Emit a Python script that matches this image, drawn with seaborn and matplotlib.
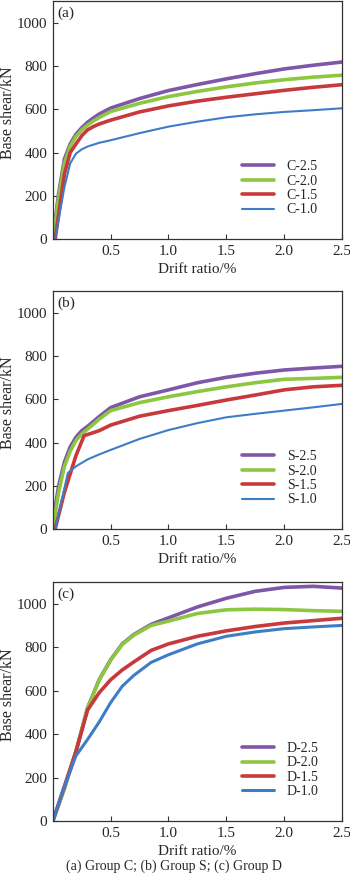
import matplotlib
matplotlib.use("Agg")
import matplotlib.pyplot as plt
import seaborn as sns

# ---- data (drift ratio %, base shear kN) ----
c_x = [0, 0.05, 0.1, 0.15, 0.2, 0.25, 0.3, 0.35, 0.4, 0.5, 0.75, 1.0, 1.25, 1.5, 1.75, 2.0, 2.25, 2.5]
c25 = [0, 210, 370, 440, 485, 515, 540, 560, 578, 606, 650, 687, 715, 741, 765, 787, 804, 819]
c20 = [0, 190, 350, 430, 475, 505, 527, 546, 562, 590, 628, 659, 683, 704, 722, 737, 749, 758]
c15_x = [0.02, 0.1, 0.15, 0.2, 0.25, 0.3, 0.35, 0.4, 0.5, 0.75, 1.0, 1.25, 1.5, 1.75, 2.0, 2.25, 2.5]
c15 = [0, 300, 400, 440, 478, 505, 520, 532, 550, 588, 616, 638, 656, 672, 688, 702, 714]
c10_x = [0.02, 0.1, 0.15, 0.2, 0.25, 0.3, 0.4, 0.5, 0.75, 1.0, 1.25, 1.5, 1.75, 2.0, 2.25, 2.5]
c10 = [0, 240, 350, 395, 415, 428, 445, 457, 490, 520, 543, 563, 577, 588, 596, 605]

s_x = [0, 0.05, 0.1, 0.15, 0.2, 0.25, 0.3, 0.4, 0.5, 0.75, 1.0, 1.25, 1.5, 1.75, 2.0, 2.25, 2.5]
s25 = [30, 200, 310, 380, 425, 455, 475, 520, 562, 612, 644, 677, 702, 721, 736, 745, 753]
s20 = [0, 170, 290, 360, 410, 440, 462, 508, 548, 585, 612, 636, 658, 677, 693, 697, 702]
s15_x = [0.02, 0.1, 0.2, 0.27, 0.35, 0.4, 0.5, 0.75, 1.0, 1.25, 1.5, 1.75, 2.0, 2.25, 2.5]
s15 = [0, 170, 340, 432, 446, 455, 481, 522, 548, 572, 597, 620, 644, 658, 665]
s10_x = [0.02, 0.13, 0.2, 0.3, 0.4, 0.5, 0.75, 1.0, 1.25, 1.5, 1.75, 2.0, 2.25, 2.5]
s10 = [0, 260, 290, 322, 345, 366, 417, 458, 490, 517, 533, 548, 563, 579]

d_x = [0, 0.1, 0.2, 0.3, 0.4, 0.5, 0.6, 0.7, 0.85, 1.0, 1.25, 1.5, 1.75, 2.0, 2.25, 2.5]
d25 = [0, 150, 320, 520, 650, 742, 815, 858, 905, 935, 985, 1025, 1057, 1075, 1080, 1072]
d20 = [0, 150, 320, 520, 648, 740, 812, 855, 900, 920, 955, 972, 975, 973, 968, 965]
d15 = [0, 160, 320, 510, 590, 650, 695, 732, 785, 815, 850, 875, 895, 911, 922, 933]
d10 = [0, 160, 300, 375, 455, 545, 620, 670, 730, 765, 815, 850, 870, 885, 893, 900]

series_colors = ["#7E57A8", "#8DC63F", "#C8393B", "#3E7DC6"]


def plot_group(ax, curves, labels, tag, blue_lw=1.5):
    """One panel: four pushover curves plus legend."""
    widths = [2.6, 2.6, 2.6, blue_lw]
    for (x, y), lab, col, lw in zip(curves, labels, series_colors, widths):
        sns.lineplot(x=x, y=y, ax=ax, color=col, lw=lw, label=lab,
                     sort=False, estimator=None)
    ax.set_xlim(0, 2.5)
    ax.set_ylim(0, 1100)
    ax.set_xticks([0.5, 1.0, 1.5, 2.0, 2.5])
    ax.set_xticklabels(["0.5", "1.0", "1.5", "2.0", "2.5"])
    ax.set_yticks([0, 200, 400, 600, 800, 1000])
    ax.tick_params(direction="in", length=3.5, width=0.8, labelsize=11, pad=4,
                   color="#333333")
    ax.set_xlabel("Drift ratio/%", fontsize=11, labelpad=4)
    ax.set_ylabel("Base shear/kN", fontsize=11.5)
    ax.yaxis.set_label_coords(-0.128, 0.53)
    for sp in ax.spines.values():
        sp.set_color("#333333")
        sp.set_linewidth(0.9)
    ax.text(0.017, 0.95, tag, transform=ax.transAxes, fontsize=11, va="center")
    ax.legend(loc="lower left", bbox_to_anchor=(0.655, 0.095), frameon=False,
              fontsize=10, handlelength=2.3, handletextpad=0.9,
              labelspacing=0.1, borderpad=0, borderaxespad=0)


sns.set_theme(style="ticks")
plt.rcParams["font.family"] = ["Liberation Serif", "DejaVu Serif"]

fig = plt.figure(figsize=(3.5, 8.77), dpi=100)
ax_a = fig.add_axes([0.151, 0.7275, 0.826, 0.271])
ax_b = fig.add_axes([0.151, 0.3968, 0.826, 0.271])
ax_c = fig.add_axes([0.151, 0.0639, 0.826, 0.2725])

plot_group(ax_a, [(c_x, c25), (c_x, c20), (c15_x, c15), (c10_x, c10)],
           ["C-2.5", "C-2.0", "C-1.5", "C-1.0"], "(a)")
plot_group(ax_b, [(s_x, s25), (s_x, s20), (s15_x, s15), (s10_x, s10)],
           ["S-2.5", "S-2.0", "S-1.5", "S-1.0"], "(b)")
plot_group(ax_c, [(d_x, d25), (d_x, d20), (d_x, d15), (d_x, d10)],
           ["D-2.5", "D-2.0", "D-1.5", "D-1.0"], "(c)", blue_lw=2.2)

fig.text(0.497, 0.0125, "(a) Group C; (b) Group S; (c) Group D",
         ha="center", va="center", fontsize=10)

fig.savefig("out.png", dpi=100)
plt.close(fig)
